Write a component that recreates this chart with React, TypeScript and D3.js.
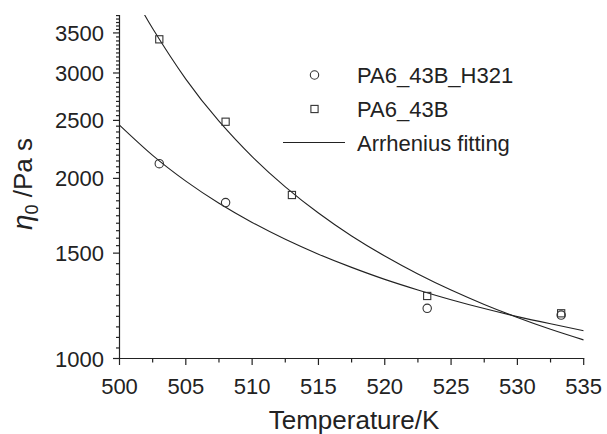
import React from "react";
import * as d3 from "d3";

// ---- data ----
const xTicks = [500, 505, 510, 515, 520, 525, 530, 535];
const yTicks = [1000, 1500, 2000, 2500, 3000, 3500];

const h321T = [503, 508, 523.2, 533.3];
const h321Eta = [2116, 1822, 1213, 1182];

const pa43T = [503, 508, 513, 523.2, 533.3];
const pa43Eta = [3415, 2487, 1876, 1272, 1190];

// Arrhenius fitting curves
const fitPa43T = [501.5, 502.5, 505, 507.5, 510, 512.5, 515, 517.5, 520, 522.5, 525, 527.5, 530, 532.5, 535];
const fitPa43Eta = [3893, 3560, 2930, 2493, 2175, 1936, 1750, 1602, 1483, 1384, 1301, 1231, 1171, 1119, 1074];

const fitH321T = [500, 502.5, 505, 507.5, 510, 512.5, 515, 517.5, 520, 522.5, 525, 527.5, 530, 532.5, 535];
const fitH321Eta = [2455, 2185, 1979, 1817, 1688, 1582, 1494, 1420, 1356, 1302, 1254, 1212, 1175, 1143, 1113];

const legendLabels = ["PA6_43B_H321", "PA6_43B", "Arrhenius fitting"];

const W = 607;
const H = 434;
const FONT = "'Liberation Sans', Arial, Helvetica, sans-serif";
const INK = "#222";

export default function App() {
  const x = d3.scaleLinear().domain([500, 535]).range([119.5, 583.7]);
  const y = d3.scaleLog().domain([1000, 3750]).range([358.5, 15]);

  const line = d3
    .line<[number, number]>()
    .x((d) => x(d[0]))
    .y((d) => y(d[1]))
    .curve(d3.curveNatural);

  const fitA = line(fitPa43T.map((t, i) => [t, fitPa43Eta[i]] as [number, number])) || "";
  const fitB = line(fitH321T.map((t, i) => [t, fitH321Eta[i]] as [number, number])) || "";

  // minor ticks on x every 2.5
  const xMinor: number[] = [];
  for (let i = 0; i < xTicks.length - 1; i++) xMinor.push((xTicks[i] + xTicks[i + 1]) / 2);

  // minor ticks on y: 10 subdivisions per major interval
  const yMinor: number[] = [];
  const majors = [...yTicks, 4000];
  for (let i = 0; i < majors.length - 1; i++) {
    const a = majors[i];
    const b = majors[i + 1];
    for (let k = 1; k < 10; k++) {
      const v = a * Math.exp((k / 10) * Math.log(b / a));
      if (v <= 3750) yMinor.push(v);
    }
  }

  const x0 = x(500);
  const y0 = y(1000);
  const yTop = y(3750);
  const xEnd = x(535);

  const legX = 314.5;
  const legTextX = 357;
  const legY = [75, 109, 142.5];

  return (
    <svg
      width={W}
      height={H}
      style={{ position: "absolute", left: 0, top: 0, background: "#fff" }}
      fontFamily={FONT}
    >
      <rect x={0} y={0} width={W} height={H} fill="#fff" />
      <defs>
        <clipPath id="plotclip">
          <rect x={x0} y={yTop} width={xEnd - x0} height={y0 - yTop} />
        </clipPath>
      </defs>

      {/* fitting curves */}
      <g clipPath="url(#plotclip)" fill="none" stroke={INK} strokeWidth={1.1}>
        <path d={fitA} />
        <path d={fitB} />
      </g>

      {/* data markers */}
      <g fill="none" stroke="#333" strokeWidth={1.1}>
        {h321T.map((t, i) => (
          <circle key={"c" + i} cx={x(t)} cy={y(h321Eta[i])} r={4.2} />
        ))}
        {pa43T.map((t, i) => (
          <rect key={"s" + i} x={x(t) - 3.6} y={y(pa43Eta[i]) - 3.6} width={7.2} height={7.2} />
        ))}
      </g>

      {/* axes */}
      <g stroke={INK} strokeWidth={1.2} fill="none">
        <line x1={x0} x2={x0} y1={yTop} y2={y0 + 0.6} />
        <line x1={x0 - 0.6} x2={xEnd + 0.6} y1={y0} y2={y0} />
        {xTicks.map((t) => (
          <line key={"xt" + t} x1={x(t)} x2={x(t)} y1={y0} y2={y0 + 6.5} />
        ))}
        {xMinor.map((t) => (
          <line key={"xm" + t} x1={x(t)} x2={x(t)} y1={y0} y2={y0 + 4} />
        ))}
        {yTicks.map((v) => (
          <line key={"yt" + v} x1={x0 - 6.5} x2={x0} y1={y(v)} y2={y(v)} />
        ))}
        {yMinor.map((v, i) => (
          <line key={"ym" + i} x1={x0 - 3.5} x2={x0} y1={y(v)} y2={y(v)} />
        ))}
      </g>

      {/* tick labels */}
      <g fill={INK} fontSize={22}>
        {xTicks.map((t) => (
          <text key={"xl" + t} x={x(t)} y={393.5} textAnchor="middle">
            {t}
          </text>
        ))}
        {yTicks.map((v) => (
          <text key={"yl" + v} x={104} y={y(v) + 8} textAnchor="end">
            {v}
          </text>
        ))}
      </g>

      {/* axis titles */}
      <text x={354} y={429} textAnchor="middle" fontSize={26} fill={INK}>
        Temperature/K
      </text>
      <text
        transform="translate(32,184) rotate(-90)"
        textAnchor="middle"
        fontSize={26}
        fill={INK}
      >
        <tspan fontStyle="italic" fontSize={28}>η</tspan>
        <tspan fontSize={18} dy={6}>0</tspan>
        <tspan dy={-6}> /Pa s</tspan>
      </text>

      {/* legend */}
      <g>
        <circle cx={legX} cy={legY[0]} r={4.2} fill="none" stroke="#333" strokeWidth={1.1} />
        <rect
          x={legX - 3.6}
          y={legY[1] - 3.6}
          width={7.2}
          height={7.2}
          fill="none"
          stroke="#333"
          strokeWidth={1.1}
        />
        <line x1={283} x2={345} y1={legY[2]} y2={legY[2]} stroke={INK} strokeWidth={1.1} />
        {legendLabels.map((s, i) => (
          <text key={s} x={legTextX} y={legY[i] + 8} fontSize={22} fill={INK}>
            {s}
          </text>
        ))}
      </g>
    </svg>
  );
}
